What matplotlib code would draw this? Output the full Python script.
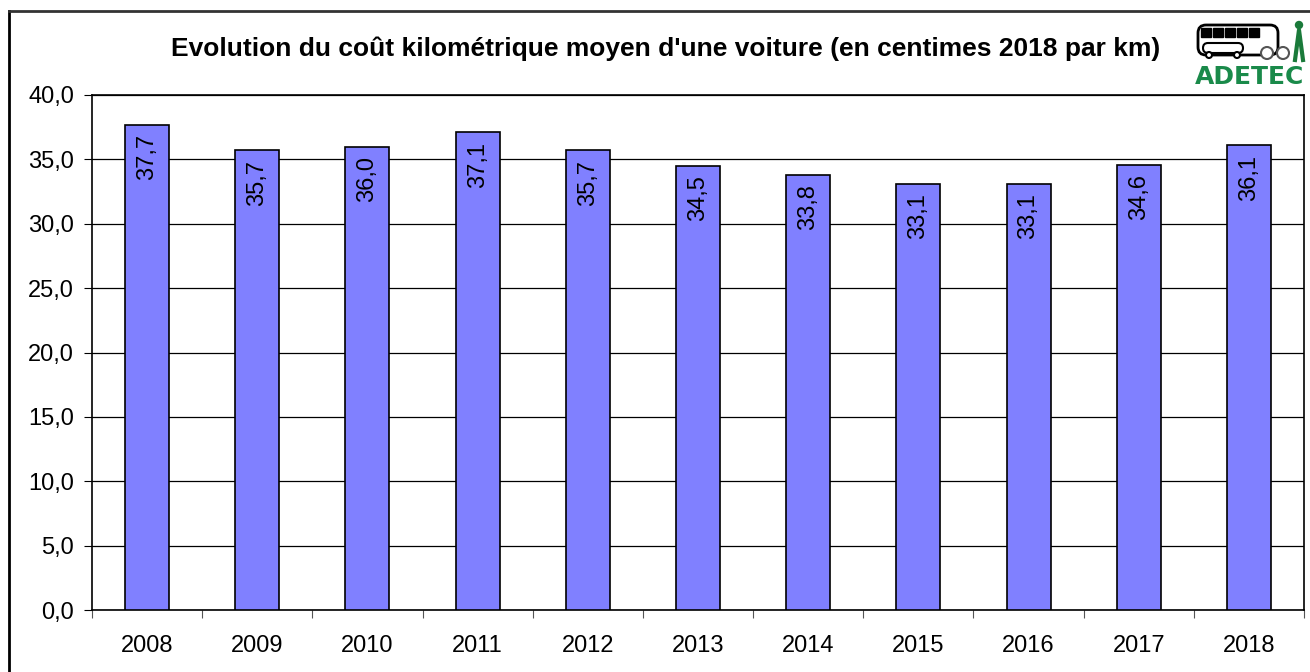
import numpy as np
import matplotlib.pyplot as plt
from matplotlib.patches import Rectangle, FancyBboxPatch, Circle

years = ['2008', '2009', '2010', '2011', '2012', '2013', '2014', '2015', '2016', '2017', '2018']
cost = [37.7, 35.7, 36.0, 37.1, 35.7, 34.5, 33.8, 33.1, 33.1, 34.6, 36.1]

plt.rcParams['font.family'] = ['Liberation Sans', 'DejaVu Sans']

fig = plt.figure(figsize=(13.1, 6.72), dpi=100)
ax = fig.add_axes([92 / 1310, 1 - 610 / 672, (1304 - 92) / 1310, (610 - 95) / 672])

x = np.arange(len(years))
ax.bar(x, cost, width=0.4, color='#8080FF', edgecolor='black', linewidth=1.2, zorder=3)
for xi, v in zip(x, cost):
    ax.annotate(f'{v:.1f}'.replace('.', ','), (xi, v), xytext=(0, -7), textcoords='offset points',
                rotation=90, ha='center', va='top', fontsize=17, zorder=4)

ax.set_xlim(-0.5, len(years) - 0.5)
ax.set_ylim(0, 40)
ax.set_yticks(np.arange(0, 41, 5))
ax.set_yticklabels([f'{t:.1f}'.replace('.', ',') for t in np.arange(0, 41, 5)], fontsize=17)
ax.yaxis.grid(True, color='black', linewidth=0.9, zorder=0)
ax.set_axisbelow(True)
ax.set_xticks(np.arange(-0.5, len(years), 1))
ax.set_xticklabels([])
ax.set_xticks(x, minor=True)
ax.set_xticklabels(years, minor=True, fontsize=17)
ax.tick_params(axis='x', which='minor', length=0, pad=18)
ax.tick_params(axis='x', which='major', length=6, direction='out', color='#555555')
ax.tick_params(axis='y', length=6, direction='out', pad=7)
for s in ax.spines.values():
    s.set_linewidth(1.2)

fig.text(0.5 * (172 + 1160) / 1310, 1 - 49 / 672,
         "Evolution du coût kilométrique moyen d'une voiture (en centimes 2018 par km)",
         ha='center', va='center', fontsize=19, fontweight='bold')

# outer frame
fig.add_artist(plt.Line2D([9 / 1310, 9 / 1310], [0, 1 - 11 / 672], color='black', linewidth=2))
fig.add_artist(plt.Line2D([9 / 1310, 1], [1 - 11 / 672, 1 - 11 / 672], color='#333333', linewidth=2))

# logo
lg = fig.add_axes([1195 / 1310, 1 - 90 / 672, 115 / 1310, 75 / 672])
lg.set_xlim(0, 115)
lg.set_ylim(75, 0)
lg.axis('off')
lg.add_patch(FancyBboxPatch((3, 10), 80, 30, boxstyle='round,pad=0,rounding_size=8',
                            facecolor='white', edgecolor='black', linewidth=2))
for wx in range(6, 60, 12):
    lg.add_patch(Rectangle((wx, 13), 10, 9, color='black'))
lg.add_patch(FancyBboxPatch((8, 28), 40, 10, boxstyle='round,pad=0,rounding_size=5',
                            facecolor='white', edgecolor='black', linewidth=1.5))
for cx in [14, 42]:
    lg.add_patch(Circle((cx, 40), 3, facecolor='white', edgecolor='black', linewidth=1.5))
for cx in [72, 88]:
    lg.add_patch(Circle((cx, 38), 6, facecolor='white', edgecolor='#555555', linewidth=1.5))
lg.plot([100, 104, 108], [45, 15, 45], color='#1a7a3a', linewidth=3)
lg.add_patch(Circle((104, 10), 3.5, color='#1a7a3a'))
lg.text(0, 62, 'ADETEC', color='#1a8a4a', fontsize=18, fontweight='heavy', va='center', ha='left',
        family='DejaVu Sans')

plt.savefig('out.png', dpi=100)
